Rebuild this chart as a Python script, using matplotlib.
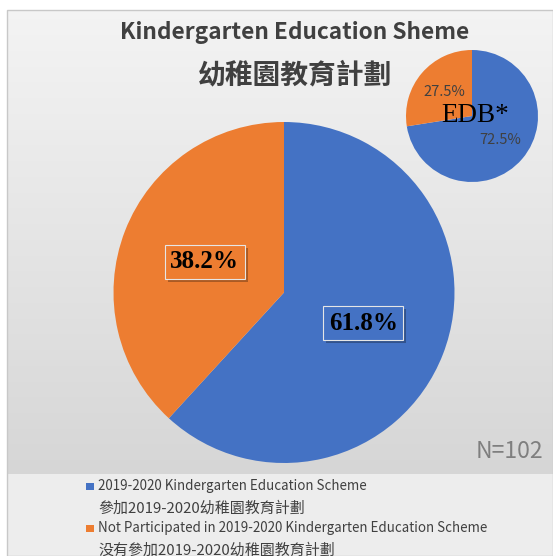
import numpy as np
import matplotlib
matplotlib.use("Agg")
import matplotlib.pyplot as plt
from matplotlib.patches import Rectangle

# data
main_labels = ["2019-2020 Kindergarten Education Scheme",
               "Not Participated in 2019-2020 Kindergarten Education Scheme"]
main_labels_zh = ["參加2019-2020幼稚園教育計劃",
                  "没有參加2019-2020幼稚園教育計劃"]
main_values = [61.8, 38.2]
edb_values = [72.5, 27.5]
colors = ["#4472C4", "#ED7D31"]
title_en = "Kindergarten Education Sheme"
title_zh = "幼稚園教育計劃"
n_text = "N=102"
edb_text = "EDB*"

CJK = ["Noto Sans CJK TC", "DejaVu Sans"]

W, H = 553, 556
fig = plt.figure(figsize=(W / 100, H / 100), dpi=100)
fig.patch.set_facecolor("white")

# background, in pixel coords
bg = fig.add_axes([0, 0, 1, 1])
bg.axis("off")
grad = np.linspace(0, 1, 200)[:, None]
top = np.array([0.955, 0.955, 0.955])
bot = np.array([0.84, 0.84, 0.84])
img = top + (bot - top) * grad[..., None]
img = np.repeat(img, 2, axis=1)
bg.imshow(img, extent=(7, W, 474, 10), aspect="auto", interpolation="bilinear")
bg.add_patch(Rectangle((7, 474), W - 7, H - 474, facecolor="#ededed", edgecolor="none"))
bg.add_patch(Rectangle((7, 10), W - 7, H - 10, facecolor="none", edgecolor="#c8c8c8", lw=1))
bg.set_xlim(0, W)
bg.set_ylim(H, 0)

# titles
bg.text(295, 32, title_en, ha="center", va="center", fontsize=16.3, fontweight="bold",
        color="#404040", family=CJK)
bg.text(295, 75, title_zh, ha="center", va="center", fontsize=20, fontweight="heavy",
        color="#404040", family=CJK)

# main pie
cx, cy, r = 284, 292.5, 170.5
ax = fig.add_axes([(cx - r) / W, (H - cy - r) / H, 2 * r / W, 2 * r / H])
wedges, _, autotexts = ax.pie(main_values, colors=colors, startangle=90, counterclock=False,
                              autopct="%1.1f%%", pctdistance=0.5,
                              textprops=dict(fontsize=18, fontweight="bold",
                                             family="Liberation Serif", color="black"))
ax.set_xlim(-1, 1)
ax.set_ylim(-1, 1)
for t, c in zip(autotexts, colors):
    t.set_bbox(dict(boxstyle="square,pad=0.22", facecolor=c, edgecolor="#e6e6e6", lw=0.8))
    t.set_zorder(4)

# drop shadows behind the label boxes
fig.canvas.draw()
renderer = fig.canvas.get_renderer()
inv = ax.transData.inverted()
for t in autotexts:
    bb = t.get_bbox_patch().get_window_extent(renderer)
    (x0, y0), (x1, y1) = inv.transform([(bb.x0 + 3, bb.y0 - 3), (bb.x1 + 3, bb.y1 - 3)])
    ax.add_patch(Rectangle((x0, y0), x1 - x0, y1 - y0, facecolor=(0, 0, 0, 0.28),
                           edgecolor="none", zorder=3))

# EDB pie
ex, ey, er = 472, 116, 66
ax2 = fig.add_axes([(ex - er) / W, (H - ey - er) / H, 2 * er / W, 2 * er / H])
ax2.pie(edb_values, colors=colors, startangle=90, counterclock=False,
        autopct="%1.1f%%", pctdistance=0.56,
        textprops=dict(fontsize=10.5, color="#404040", family=CJK))
ax2.set_xlim(-1, 1)
ax2.set_ylim(-1, 1)
ax2.text(0.05, 0.0, edb_text, ha="center", va="center", fontsize=19.5,
         family="Liberation Serif", color="black")

# N label
bg.text(543, 452, n_text, ha="right", va="center", fontsize=16.5, color="#7f7f7f", family=CJK)

# legend
ys = [486, 528]
for lab, zh, c, y in zip(main_labels, main_labels_zh, colors, ys):
    bg.add_patch(Rectangle((86, y - 3.5), 7.5, 7.5, facecolor=c, edgecolor="none"))
    bg.text(98, y, lab, ha="left", va="center", fontsize=9.6, color="#404040", family=CJK)
    bg.text(98, y + 22, zh, ha="left", va="center", fontsize=10.8, color="#404040", family=CJK)

fig.savefig("out.png", dpi=100)
